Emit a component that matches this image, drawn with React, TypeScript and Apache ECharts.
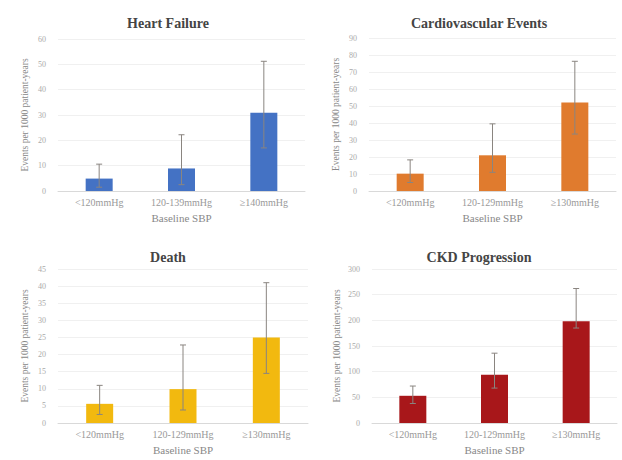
import React, { useEffect, useRef } from "react";
import * as echarts from "echarts";

const titles = ["Heart Failure", "Cardiovascular Events", "Death", "CKD Progression"];
const hfCategories = ["<120mmHg", "120-139mmHg", "≥140mmHg"];
const otherCategories = ["<120mmHg", "120-129mmHg", "≥130mmHg"];

const hfValues = [4.9, 8.9, 30.9];
const hfLow = [1.5, 2.5, 17];
const hfHigh = [10.6, 22.2, 51.2];

const cvValues = [10.2, 21, 52];
const cvLow = [5, 11, 33.5];
const cvHigh = [18.3, 39.5, 76.3];

const deathValues = [5.6, 9.9, 25];
const deathLow = [2.5, 3.8, 14.5];
const deathHigh = [11, 22.8, 41];

const ckdValues = [53, 94, 198];
const ckdLow = [38, 68, 185];
const ckdHigh = [72, 136, 262];

const yMax = [60, 90, 45, 300];
const yInterval = [10, 10, 5, 50];
const colors = ["#4472C4", "#E07B2E", "#F2B90F", "#A8171A"];

const FONT = "'Liberation Serif', 'DejaVu Serif', serif";

export default function App() {
  const ref = useRef<HTMLDivElement>(null);
  useEffect(() => {
    if (!ref.current) return;
    const chart = echarts.init(ref.current, undefined, { renderer: "svg" });
    const grids = [
      { left: 58, right: 317, top: 39, bottom: 269 },
      { left: 369, right: 6, top: 38, bottom: 269 },
      { left: 58, right: 314, top: 269, bottom: 37 },
      { left: 372, right: 5, top: 269, bottom: 37 },
    ];
    const cats = [hfCategories, otherCategories, otherCategories, otherCategories];
    const vals = [hfValues, cvValues, deathValues, ckdValues];
    const lows = [hfLow, cvLow, deathLow, ckdLow];
    const highs = [hfHigh, cvHigh, deathHigh, ckdHigh];
    const titleCenters = [
      { x: 163, y: 11 },
      { x: 474, y: 11 },
      { x: 163, y: 245 },
      { x: 474, y: 245 },
    ];
    const series: any[] = [];
    for (let i = 0; i < 4; i++) {
      series.push({
        type: "bar",
        xAxisIndex: i,
        yAxisIndex: i,
        data: vals[i],
        barWidth: 27,
        itemStyle: { color: colors[i] },
      });
      series.push({
        type: "custom",
        xAxisIndex: i,
        yAxisIndex: i,
        data: lows[i].map((l, j) => [j, l, highs[i][j]]),
        z: 10,
        renderItem: (params: any, api: any) => {
          const x = api.value(0);
          const lo = api.coord([x, api.value(1)]);
          const hi = api.coord([x, api.value(2)]);
          const half = 3;
          const style = { stroke: "#8a8580", lineWidth: 1 };
          return {
            type: "group",
            children: [
              { type: "line", shape: { x1: hi[0], y1: hi[1], x2: lo[0], y2: lo[1] }, style },
              { type: "line", shape: { x1: hi[0] - half, y1: hi[1], x2: hi[0] + half, y2: hi[1] }, style },
              { type: "line", shape: { x1: lo[0] - half, y1: lo[1], x2: lo[0] + half, y2: lo[1] }, style },
            ],
          };
        },
      });
    }
    chart.setOption({
      animation: false,
      backgroundColor: "#ffffff",
      textStyle: { fontFamily: FONT },
      title: titles.map((t, i) => ({
        text: t,
        left: titleCenters[i].x,
        top: titleCenters[i].y,
        textAlign: "center",
        textStyle: { fontFamily: FONT, fontSize: 14, fontWeight: "bold", color: "#444" },
      })),
      grid: grids,
      xAxis: grids.map((_, i) => ({
        type: "category",
        gridIndex: i,
        data: cats[i],
        name: "Baseline SBP",
        nameLocation: "middle",
        nameGap: 21,
        nameTextStyle: { fontFamily: FONT, fontSize: 11, color: "#888" },
        axisLine: { lineStyle: { color: "#d9d9d9" } },
        axisTick: { show: false },
        axisLabel: {
          fontFamily: FONT,
          fontSize: 10,
          color: "#999",
          margin: 6,
          interval: 0,
          hideOverlap: false,
        },
      })),
      yAxis: grids.map((_, i) => ({
        type: "value",
        gridIndex: i,
        min: 0,
        max: yMax[i],
        interval: yInterval[i],
        name: "Events per 1000 patient-years",
        nameLocation: "middle",
        nameGap: i === 3 ? 30 : 28,
        nameTextStyle: { fontFamily: FONT, fontSize: 9.5, color: "#888" },
        axisLine: { show: false },
        axisTick: { show: false },
        axisLabel: { fontFamily: FONT, fontSize: 8, color: "#aaa", margin: 12 },
        splitLine: { lineStyle: { color: "#f0f0f0" } },
      })),
      series,
    });
    return () => chart.dispose();
  }, []);
  return (
    <div
      ref={ref}
      style={{ position: "fixed", left: 0, top: 0, width: 622, height: 460 }}
    />
  );
}
